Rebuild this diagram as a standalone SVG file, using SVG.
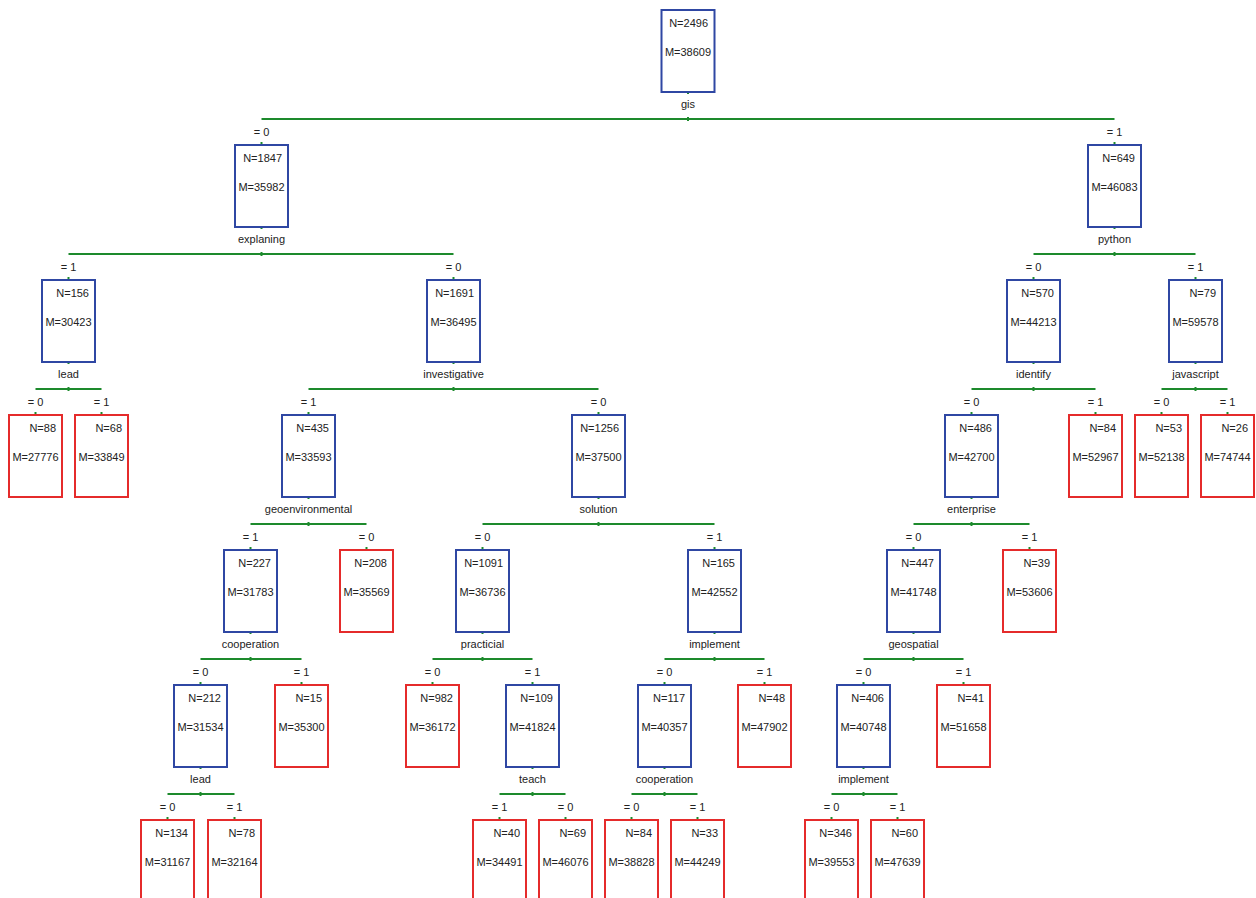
<svg xmlns="http://www.w3.org/2000/svg" width="1256" height="898" viewBox="0 0 1256 898">
<style>
text{font-family:"Liberation Sans",Arial,sans-serif;font-size:11px;fill:#222}
.b{fill:#fff;stroke:#2f47a3;stroke-width:2}
.r{fill:#fff;stroke:#e52b2b;stroke-width:2}
.n{text-anchor:end}
.m,.s,.e{text-anchor:middle}
.g{stroke:#1d8a2c;stroke-width:2;fill:none}
.t{stroke:#1d8a2c;stroke-width:2}
</style>
<rect width="1256" height="898" fill="#fff"/>
<g id="connectors">
<line class="g" x1="261.5" y1="119" x2="1114.5" y2="119"/>
<line class="g" x1="68.5" y1="254" x2="453.5" y2="254"/>
<line class="g" x1="1033.5" y1="254" x2="1195.5" y2="254"/>
<line class="g" x1="35.5" y1="389" x2="101.5" y2="389"/>
<line class="g" x1="308.5" y1="389" x2="598.5" y2="389"/>
<line class="g" x1="971.5" y1="389" x2="1095.5" y2="389"/>
<line class="g" x1="1161.5" y1="389" x2="1227.5" y2="389"/>
<line class="g" x1="250.5" y1="524" x2="366.5" y2="524"/>
<line class="g" x1="482.5" y1="524" x2="714.5" y2="524"/>
<line class="g" x1="913.5" y1="524" x2="1029.5" y2="524"/>
<line class="g" x1="200.5" y1="659" x2="301.5" y2="659"/>
<line class="g" x1="432.5" y1="659" x2="532.5" y2="659"/>
<line class="g" x1="664.5" y1="659" x2="764.5" y2="659"/>
<line class="g" x1="863.5" y1="659" x2="963.5" y2="659"/>
<line class="g" x1="167.5" y1="794" x2="234.5" y2="794"/>
<line class="g" x1="499.5" y1="794" x2="565.5" y2="794"/>
<line class="g" x1="631.5" y1="794" x2="697.5" y2="794"/>
<line class="g" x1="831.5" y1="794" x2="897.5" y2="794"/>
<g class="t">
<line x1="688" y1="92" x2="688" y2="94"/><line x1="688" y1="117" x2="688" y2="121"/>
<line x1="261.5" y1="227" x2="261.5" y2="229"/><line x1="261.5" y1="252" x2="261.5" y2="256"/>
<line x1="1114.5" y1="227" x2="1114.5" y2="229"/><line x1="1114.5" y1="252" x2="1114.5" y2="256"/>
<line x1="68.5" y1="362" x2="68.5" y2="364"/><line x1="68.5" y1="387" x2="68.5" y2="391"/>
<line x1="453.5" y1="362" x2="453.5" y2="364"/><line x1="453.5" y1="387" x2="453.5" y2="391"/>
<line x1="1033.5" y1="362" x2="1033.5" y2="364"/><line x1="1033.5" y1="387" x2="1033.5" y2="391"/>
<line x1="1195.5" y1="362" x2="1195.5" y2="364"/><line x1="1195.5" y1="387" x2="1195.5" y2="391"/>
<line x1="308.5" y1="497" x2="308.5" y2="499"/><line x1="308.5" y1="522" x2="308.5" y2="526"/>
<line x1="598.5" y1="497" x2="598.5" y2="499"/><line x1="598.5" y1="522" x2="598.5" y2="526"/>
<line x1="971.5" y1="497" x2="971.5" y2="499"/><line x1="971.5" y1="522" x2="971.5" y2="526"/>
<line x1="250.5" y1="632" x2="250.5" y2="634"/><line x1="250.5" y1="657" x2="250.5" y2="661"/>
<line x1="482.5" y1="632" x2="482.5" y2="634"/><line x1="482.5" y1="657" x2="482.5" y2="661"/>
<line x1="714.5" y1="632" x2="714.5" y2="634"/><line x1="714.5" y1="657" x2="714.5" y2="661"/>
<line x1="913.5" y1="632" x2="913.5" y2="634"/><line x1="913.5" y1="657" x2="913.5" y2="661"/>
<line x1="200.5" y1="767" x2="200.5" y2="769"/><line x1="200.5" y1="792" x2="200.5" y2="796"/>
<line x1="532.5" y1="767" x2="532.5" y2="769"/><line x1="532.5" y1="792" x2="532.5" y2="796"/>
<line x1="664.5" y1="767" x2="664.5" y2="769"/><line x1="664.5" y1="792" x2="664.5" y2="796"/>
<line x1="863.5" y1="767" x2="863.5" y2="769"/><line x1="863.5" y1="792" x2="863.5" y2="796"/>
<line x1="261.5" y1="142" x2="261.5" y2="145"/><line x1="1114.5" y1="142" x2="1114.5" y2="145"/>
<line x1="68.5" y1="277" x2="68.5" y2="280"/><line x1="453.5" y1="277" x2="453.5" y2="280"/><line x1="1033.5" y1="277" x2="1033.5" y2="280"/><line x1="1195.5" y1="277" x2="1195.5" y2="280"/>
<line x1="35.5" y1="412" x2="35.5" y2="415"/><line x1="101.5" y1="412" x2="101.5" y2="415"/><line x1="308.5" y1="412" x2="308.5" y2="415"/><line x1="598.5" y1="412" x2="598.5" y2="415"/><line x1="971.5" y1="412" x2="971.5" y2="415"/><line x1="1095.5" y1="412" x2="1095.5" y2="415"/><line x1="1161.5" y1="412" x2="1161.5" y2="415"/><line x1="1227.5" y1="412" x2="1227.5" y2="415"/>
<line x1="250.5" y1="547" x2="250.5" y2="550"/><line x1="366.5" y1="547" x2="366.5" y2="550"/><line x1="482.5" y1="547" x2="482.5" y2="550"/><line x1="714.5" y1="547" x2="714.5" y2="550"/><line x1="913.5" y1="547" x2="913.5" y2="550"/><line x1="1029.5" y1="547" x2="1029.5" y2="550"/>
<line x1="200.5" y1="682" x2="200.5" y2="685"/><line x1="301.5" y1="682" x2="301.5" y2="685"/><line x1="432.5" y1="682" x2="432.5" y2="685"/><line x1="532.5" y1="682" x2="532.5" y2="685"/><line x1="664.5" y1="682" x2="664.5" y2="685"/><line x1="764.5" y1="682" x2="764.5" y2="685"/><line x1="863.5" y1="682" x2="863.5" y2="685"/><line x1="963.5" y1="682" x2="963.5" y2="685"/>
<line x1="167.5" y1="817" x2="167.5" y2="820"/><line x1="234.5" y1="817" x2="234.5" y2="820"/><line x1="499.5" y1="817" x2="499.5" y2="820"/><line x1="565.5" y1="817" x2="565.5" y2="820"/><line x1="631.5" y1="817" x2="631.5" y2="820"/><line x1="697.5" y1="817" x2="697.5" y2="820"/><line x1="831.5" y1="817" x2="831.5" y2="820"/><line x1="897.5" y1="817" x2="897.5" y2="820"/>
</g>
<g class="el">
<text class="e" x="261.5" y="136">= 0</text><text class="e" x="1114.5" y="136">= 1</text>
<text class="e" x="68.5" y="271">= 1</text><text class="e" x="453.5" y="271">= 0</text><text class="e" x="1033.5" y="271">= 0</text><text class="e" x="1195.5" y="271">= 1</text>
<text class="e" x="35.5" y="406">= 0</text><text class="e" x="101.5" y="406">= 1</text><text class="e" x="308.5" y="406">= 1</text><text class="e" x="598.5" y="406">= 0</text><text class="e" x="971.5" y="406">= 0</text><text class="e" x="1095.5" y="406">= 1</text><text class="e" x="1161.5" y="406">= 0</text><text class="e" x="1227.5" y="406">= 1</text>
<text class="e" x="250.5" y="541">= 1</text><text class="e" x="366.5" y="541">= 0</text><text class="e" x="482.5" y="541">= 0</text><text class="e" x="714.5" y="541">= 1</text><text class="e" x="913.5" y="541">= 0</text><text class="e" x="1029.5" y="541">= 1</text>
<text class="e" x="200.5" y="676">= 0</text><text class="e" x="301.5" y="676">= 1</text><text class="e" x="432.5" y="676">= 0</text><text class="e" x="532.5" y="676">= 1</text><text class="e" x="664.5" y="676">= 0</text><text class="e" x="764.5" y="676">= 1</text><text class="e" x="863.5" y="676">= 0</text><text class="e" x="963.5" y="676">= 1</text>
<text class="e" x="167.5" y="811">= 0</text><text class="e" x="234.5" y="811">= 1</text><text class="e" x="499.5" y="811">= 1</text><text class="e" x="565.5" y="811">= 0</text><text class="e" x="631.5" y="811">= 0</text><text class="e" x="697.5" y="811">= 1</text><text class="e" x="831.5" y="811">= 0</text><text class="e" x="897.5" y="811">= 1</text>
</g>
</g>
<g id="n_root"><rect class="b" x="661.5" y="10" width="53" height="82"/><text class="n" x="708" y="27">N=2496</text><text class="m" x="688" y="56">M=38609</text><text class="s" x="688" y="108">gis</text></g>
<g id="n_1847"><rect class="b" x="235" y="145" width="53" height="82"/><text class="n" x="282" y="162">N=1847</text><text class="m" x="261.5" y="191">M=35982</text><text class="s" x="261.5" y="243">explaning</text></g>
<g id="n_649"><rect class="b" x="1088" y="145" width="53" height="82"/><text class="n" x="1135" y="162">N=649</text><text class="m" x="1114.5" y="191">M=46083</text><text class="s" x="1114.5" y="243">python</text></g>
<g id="n_156"><rect class="b" x="42" y="280" width="53" height="82"/><text class="n" x="89" y="297">N=156</text><text class="m" x="68.5" y="326">M=30423</text><text class="s" x="68.5" y="378">lead</text></g>
<g id="n_1691"><rect class="b" x="427" y="280" width="53" height="82"/><text class="n" x="474" y="297">N=1691</text><text class="m" x="453.5" y="326">M=36495</text><text class="s" x="453.5" y="378">investigative</text></g>
<g id="n_570"><rect class="b" x="1007" y="280" width="53" height="82"/><text class="n" x="1054" y="297">N=570</text><text class="m" x="1033.5" y="326">M=44213</text><text class="s" x="1033.5" y="378">identify</text></g>
<g id="n_79"><rect class="b" x="1169" y="280" width="53" height="82"/><text class="n" x="1216" y="297">N=79</text><text class="m" x="1195.5" y="326">M=59578</text><text class="s" x="1195.5" y="378">javascript</text></g>
<g id="n_88"><rect class="r" x="9" y="415" width="53" height="82"/><text class="n" x="56" y="432">N=88</text><text class="m" x="35.5" y="461">M=27776</text></g>
<g id="n_68"><rect class="r" x="75" y="415" width="53" height="82"/><text class="n" x="122" y="432">N=68</text><text class="m" x="101.5" y="461">M=33849</text></g>
<g id="n_435"><rect class="b" x="282" y="415" width="53" height="82"/><text class="n" x="329" y="432">N=435</text><text class="m" x="308.5" y="461">M=33593</text><text class="s" x="308.5" y="513">geoenvironmental</text></g>
<g id="n_1256"><rect class="b" x="572" y="415" width="53" height="82"/><text class="n" x="619" y="432">N=1256</text><text class="m" x="598.5" y="461">M=37500</text><text class="s" x="598.5" y="513">solution</text></g>
<g id="n_486"><rect class="b" x="945" y="415" width="53" height="82"/><text class="n" x="992" y="432">N=486</text><text class="m" x="971.5" y="461">M=42700</text><text class="s" x="971.5" y="513">enterprise</text></g>
<g id="n_84a"><rect class="r" x="1069" y="415" width="53" height="82"/><text class="n" x="1116" y="432">N=84</text><text class="m" x="1095.5" y="461">M=52967</text></g>
<g id="n_53"><rect class="r" x="1135" y="415" width="53" height="82"/><text class="n" x="1182" y="432">N=53</text><text class="m" x="1161.5" y="461">M=52138</text></g>
<g id="n_26"><rect class="r" x="1201" y="415" width="53" height="82"/><text class="n" x="1248" y="432">N=26</text><text class="m" x="1227.5" y="461">M=74744</text></g>
<g id="n_227"><rect class="b" x="224" y="550" width="53" height="82"/><text class="n" x="271" y="567">N=227</text><text class="m" x="250.5" y="596">M=31783</text><text class="s" x="250.5" y="648">cooperation</text></g>
<g id="n_208"><rect class="r" x="340" y="550" width="53" height="82"/><text class="n" x="387" y="567">N=208</text><text class="m" x="366.5" y="596">M=35569</text></g>
<g id="n_1091"><rect class="b" x="456" y="550" width="53" height="82"/><text class="n" x="503" y="567">N=1091</text><text class="m" x="482.5" y="596">M=36736</text><text class="s" x="482.5" y="648">practicial</text></g>
<g id="n_165"><rect class="b" x="688" y="550" width="53" height="82"/><text class="n" x="735" y="567">N=165</text><text class="m" x="714.5" y="596">M=42552</text><text class="s" x="714.5" y="648">implement</text></g>
<g id="n_447"><rect class="b" x="887" y="550" width="53" height="82"/><text class="n" x="934" y="567">N=447</text><text class="m" x="913.5" y="596">M=41748</text><text class="s" x="913.5" y="648">geospatial</text></g>
<g id="n_39"><rect class="r" x="1003" y="550" width="53" height="82"/><text class="n" x="1050" y="567">N=39</text><text class="m" x="1029.5" y="596">M=53606</text></g>
<g id="n_212"><rect class="b" x="174" y="685" width="53" height="82"/><text class="n" x="221" y="702">N=212</text><text class="m" x="200.5" y="731">M=31534</text><text class="s" x="200.5" y="783">lead</text></g>
<g id="n_15"><rect class="r" x="275" y="685" width="53" height="82"/><text class="n" x="322" y="702">N=15</text><text class="m" x="301.5" y="731">M=35300</text></g>
<g id="n_982"><rect class="r" x="406" y="685" width="53" height="82"/><text class="n" x="453" y="702">N=982</text><text class="m" x="432.5" y="731">M=36172</text></g>
<g id="n_109"><rect class="b" x="506" y="685" width="53" height="82"/><text class="n" x="553" y="702">N=109</text><text class="m" x="532.5" y="731">M=41824</text><text class="s" x="532.5" y="783">teach</text></g>
<g id="n_117"><rect class="b" x="638" y="685" width="53" height="82"/><text class="n" x="685" y="702">N=117</text><text class="m" x="664.5" y="731">M=40357</text><text class="s" x="664.5" y="783">cooperation</text></g>
<g id="n_48"><rect class="r" x="738" y="685" width="53" height="82"/><text class="n" x="785" y="702">N=48</text><text class="m" x="764.5" y="731">M=47902</text></g>
<g id="n_406"><rect class="b" x="837" y="685" width="53" height="82"/><text class="n" x="884" y="702">N=406</text><text class="m" x="863.5" y="731">M=40748</text><text class="s" x="863.5" y="783">implement</text></g>
<g id="n_41"><rect class="r" x="937" y="685" width="53" height="82"/><text class="n" x="984" y="702">N=41</text><text class="m" x="963.5" y="731">M=51658</text></g>
<g id="n_134"><rect class="r" x="141" y="820" width="53" height="82"/><text class="n" x="188" y="837">N=134</text><text class="m" x="167.5" y="866">M=31167</text></g>
<g id="n_78"><rect class="r" x="208" y="820" width="53" height="82"/><text class="n" x="255" y="837">N=78</text><text class="m" x="234.5" y="866">M=32164</text></g>
<g id="n_40"><rect class="r" x="473" y="820" width="53" height="82"/><text class="n" x="520" y="837">N=40</text><text class="m" x="499.5" y="866">M=34491</text></g>
<g id="n_69"><rect class="r" x="539" y="820" width="53" height="82"/><text class="n" x="586" y="837">N=69</text><text class="m" x="565.5" y="866">M=46076</text></g>
<g id="n_84b"><rect class="r" x="605" y="820" width="53" height="82"/><text class="n" x="652" y="837">N=84</text><text class="m" x="631.5" y="866">M=38828</text></g>
<g id="n_33"><rect class="r" x="671" y="820" width="53" height="82"/><text class="n" x="718" y="837">N=33</text><text class="m" x="697.5" y="866">M=44249</text></g>
<g id="n_346"><rect class="r" x="805" y="820" width="53" height="82"/><text class="n" x="852" y="837">N=346</text><text class="m" x="831.5" y="866">M=39553</text></g>
<g id="n_60"><rect class="r" x="871" y="820" width="53" height="82"/><text class="n" x="918" y="837">N=60</text><text class="m" x="897.5" y="866">M=47639</text></g>
</svg>
